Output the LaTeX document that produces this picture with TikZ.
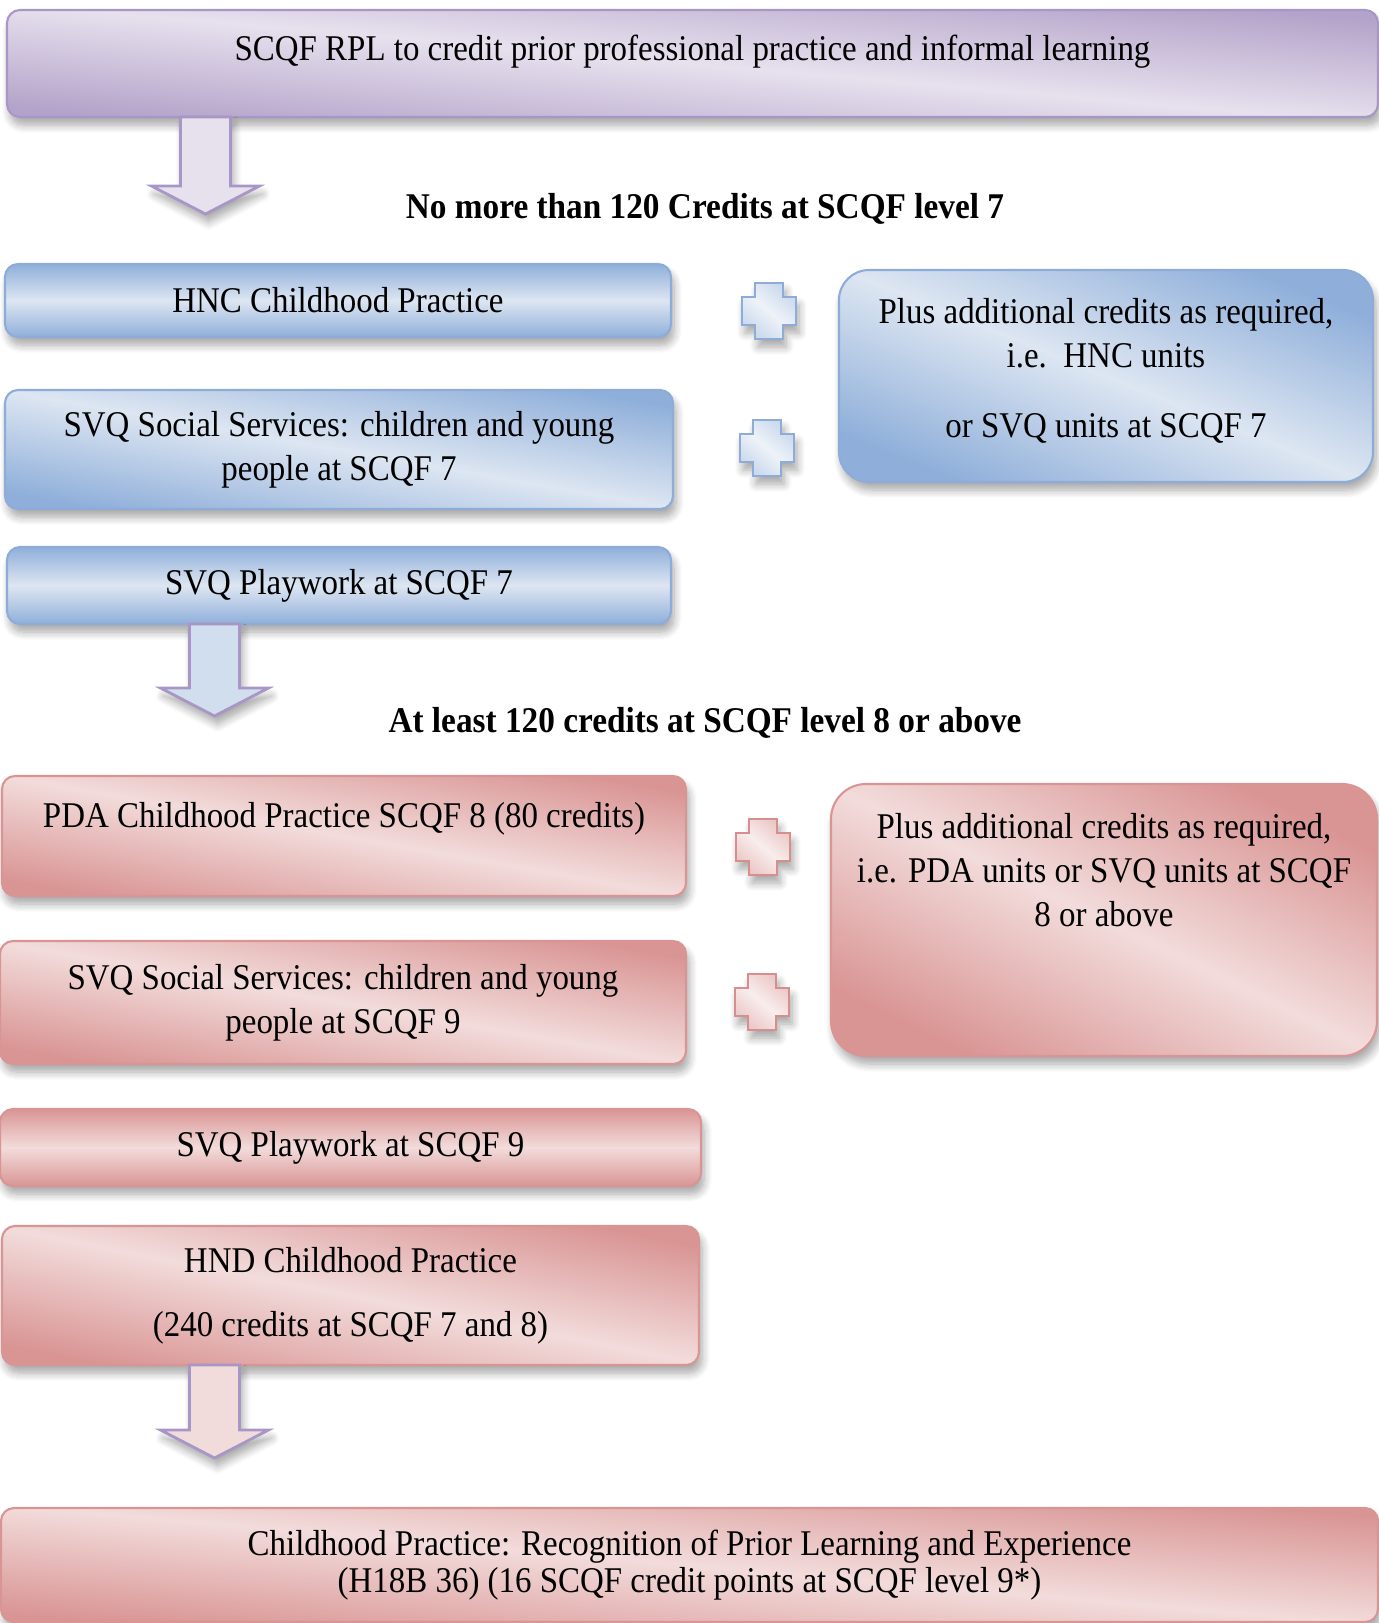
\documentclass[tikz,border=0pt]{standalone}
\usepackage{fontspec}
\setmainfont[FakeStretch=0.91,BoldFeatures={FakeStretch=0.92}]{Liberation Serif}
\usepackage{tikz}
\usetikzlibrary{positioning,shadows.blur}
\definecolor{lilacdark}{HTML}{B3A2C9}
\definecolor{lilaclight}{HTML}{E7E1EE}
\definecolor{lilacline}{HTML}{A897C6}
\definecolor{bluedark}{HTML}{8FAFDA}
\definecolor{bluelight}{HTML}{DDE6F2}
\definecolor{blueline}{HTML}{8EACD8}
\definecolor{rosedark}{HTML}{D99594}
\definecolor{roselight}{HTML}{F2DCDB}
\definecolor{roseline}{HTML}{D78E8E}
\tikzset{softshadow/.style={blur shadow={shadow xshift=0.3mm,shadow yshift=-0.8mm,shadow blur radius=0.8mm,shadow blur steps=8,shadow opacity=35}}}
\tikzset{card/.style={rounded corners=1.3mm,line width=0.6pt,inner sep=0pt,align=center,shading angle=-8,softshadow}}
\tikzset{lilaccard/.style={card,draw=lilacline,top color=lilacdark,bottom color=lilacdark,middle color=lilaclight}}
\tikzset{bluecard/.style={card,draw=blueline,top color=bluedark,bottom color=bluedark,middle color=bluelight}}
\tikzset{rosecard/.style={card,draw=rosedark,top color=rosedark,bottom color=rosedark,middle color=roselight}}
\tikzset{heading/.style={font=\fontsize{10.3}{12.4}\selectfont\bfseries}}
\tikzset{flowarrow/.style={draw=lilacline,line width=0.8pt,softshadow}}
\tikzset{bluecross/.style={draw=blueline,line width=0.8pt,top color=bluelight!75!bluedark,bottom color=bluelight!75!bluedark,middle color=bluelight!50!white,shading angle=-40,softshadow}}
\tikzset{rosecross/.style={draw=roseline,line width=0.8pt,top color=roselight!70!rosedark,bottom color=roselight!70!rosedark,middle color=roselight!50!white,shading angle=-40,softshadow}}
\tikzset{pics/plussign/.style={code={
  \path[#1] (-14,-28) -- (14,-28) -- (14,-14) -- (27,-14) -- (27,14) -- (14,14) -- (14,28)
    -- (-14,28) -- (-14,14) -- (-27,14) -- (-27,-14) -- (-14,-14) -- cycle;}}}
\def\flowdown#1#2#3#4{\path[flowarrow,fill=#1] (#2-25,#3) -- (#2+25,#3) -- (#2+25,#4-28)
  -- (#2+54,#4-28) -- (#2,#4) -- (#2-54,#4-28) -- (#2-25,#4-28) -- cycle;}

\begin{document}
\begin{tikzpicture}[x=0.1mm,y=-0.1mm,font=\fontsize{10.3}{12.4}\selectfont]
  \useasboundingbox (0,0) rectangle (1379,1623);
  \node[lilaccard,shading angle=-5,minimum width=137.1mm,minimum height=10.7mm,text height=5mm,text depth=5.7mm] (rpl) at (692.5,63.5)
    {SCQF RPL to credit prior professional practice and informal learning};
  \flowdown{lilaclight}{205.5}{117}{214}
  \node[heading] (lvl7) at (705,209) {No more than 120 Credits at SCQF level 7};

  \node[bluecard,minimum width=66.6mm,minimum height=7.3mm] (hnc) at (338,300.5) {HNC Childhood Practice};
  \node[bluecard,shading angle=-10,minimum width=66.8mm,minimum height=11.9mm] (svqseven) at (339,449.5)
    {SVQ Social Services: children and young\\people at SCQF 7};
  \node[bluecard,minimum width=66.4mm,minimum height=7.7mm] (playseven) at (339,585.5) {SVQ Playwork at SCQF 7};
  \node[bluecard,shading angle=-22,rounded corners=3mm,minimum width=53.4mm,minimum height=21.2mm,text height=16.7mm,text depth=4.5mm] (extraseven) at (1106,376)
    {Plus additional credits as required,\\i.e.~~HNC units\\[2.6mm]or SVQ units at SCQF 7};
  \pic (plusa) at (769,311) {plussign=bluecross};
  \pic (plusb) at (767,448) {plussign=bluecross};

  \flowdown{bluelight!85!bluedark}{214.5}{624}{716}
  \node[heading] (lvl8) at (705,723) {At least 120 credits at SCQF level 8 or above};

  \node[rosecard,shading angle=-10,minimum width=68.4mm,minimum height=12mm,text height=5.1mm,text depth=6.9mm] (pda) at (344,836)
    {PDA Childhood Practice SCQF 8 (80 credits)};
  \node[rosecard,shading angle=-10,minimum width=68.6mm,minimum height=12.3mm] (svqnine) at (343,1002.5)
    {SVQ Social Services: children and young\\people at SCQF 9};
  \node[rosecard,minimum width=70.1mm,minimum height=7.7mm] (playnine) at (350.5,1147.5) {SVQ Playwork at SCQF 9};
  \node[rosecard,shading angle=-11,minimum width=69.7mm,minimum height=13.9mm] (hnd) at (350.5,1295.5)
    {HND Childhood Practice\\[2.05mm](240 credits at SCQF 7 and 8)};
  \node[rosecard,shading angle=-26,rounded corners=3.5mm,minimum width=54.6mm,minimum height=27.2mm,text height=14.2mm,text depth=13mm] (extraeight) at (1104,920)
    {Plus additional credits as required,\\i.e. PDA units or SVQ units at SCQF\\8 or above};
  \pic (plusc) at (763,847) {plussign=rosecross};
  \pic (plusd) at (762,1002) {plussign=rosecross};

  \flowdown{roselight}{214.5}{1365}{1458}
  \node[rosecard,shading angle=-5,minimum width=137.7mm,minimum height=11.4mm] (award) at (689.5,1565)
    {Childhood Practice: Recognition of Prior Learning and Experience\\[-0.65mm](H18B 36) (16 SCQF credit points at SCQF level 9*)};
\end{tikzpicture}
\end{document}
